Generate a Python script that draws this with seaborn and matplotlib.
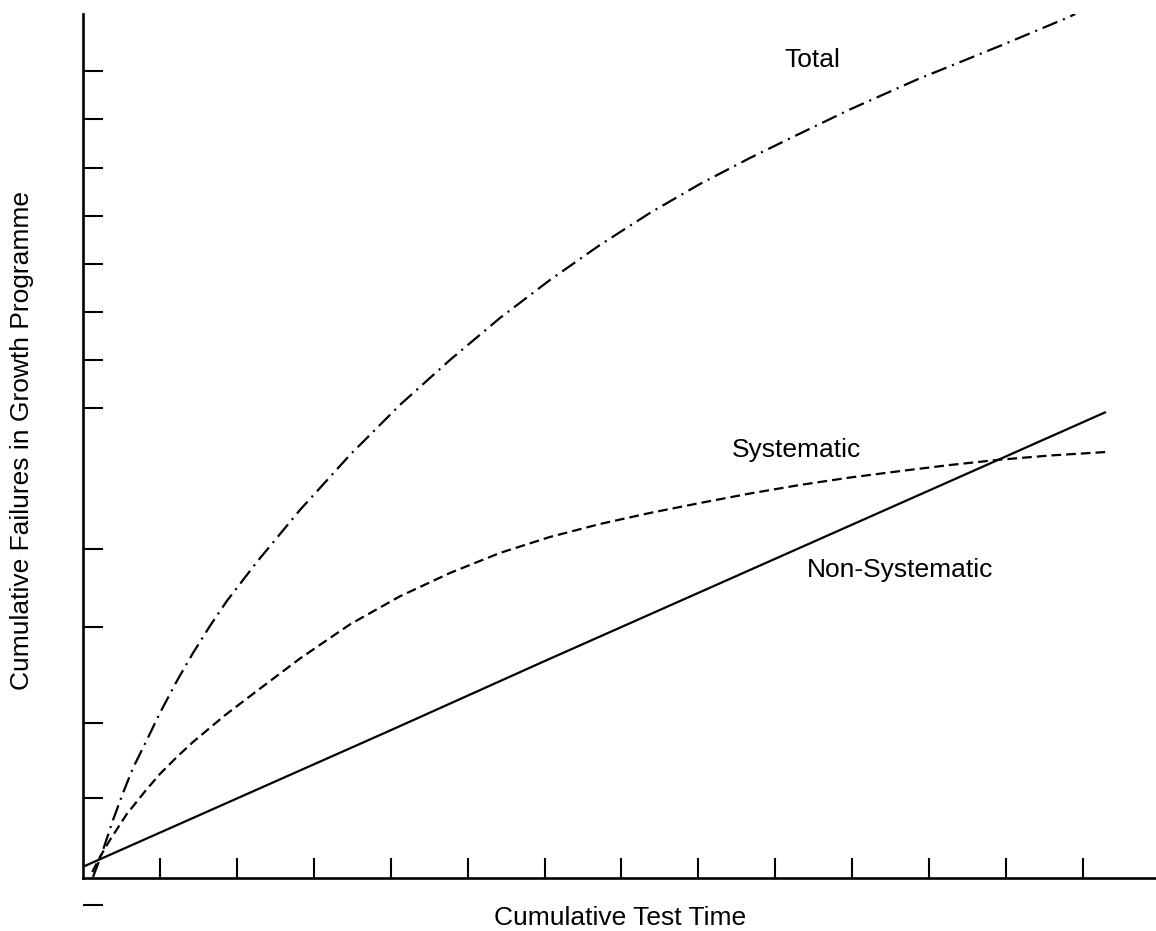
import matplotlib
matplotlib.use("Agg")
import matplotlib.pyplot as plt
import seaborn as sns
import pandas as pd

# ---- data (arbitrary units) ----
nonsys_x = [0.0, 2.0, 4.0, 6.0, 8.0, 10.0, 12.0, 13.29]
nonsys_y = [1.3, 9.2, 17.1, 25.1, 33.0, 40.9, 48.8, 53.9]

sys_x = [0.12, 0.22, 0.35, 0.57, 0.81, 1.00, 1.22, 1.43, 1.85, 2.26, 2.82,
         3.47, 4.12, 4.77, 5.42, 6.07, 6.72, 7.37, 8.02, 8.67, 9.32, 9.97,
         10.67, 11.27, 11.90, 12.57, 13.31]
sys_y = [0.69, 2.43, 4.40, 7.41, 10.07, 12.04, 14.00, 15.74, 18.87, 21.64,
         25.40, 29.35, 32.60, 35.30, 37.62, 39.47, 40.97, 42.25, 43.40, 44.50,
         45.49, 46.35, 47.15, 47.80, 48.40, 48.90, 49.31]

total_x = [0.13, 0.18, 0.26, 0.39, 0.52, 0.65, 0.83, 1.00, 1.22, 1.43, 1.65,
           1.87, 2.26, 2.82, 3.47, 4.12, 4.77, 5.42, 6.07, 6.72, 7.37, 8.02,
           8.67, 9.19, 9.97, 10.84, 11.92, 12.79, 12.90]
total_y = [0.12, 1.27, 3.24, 6.71, 9.84, 12.73, 15.97, 19.10, 22.80, 26.04,
           29.17, 32.06, 36.57, 42.59, 48.96, 54.75, 59.95, 64.81, 69.21,
           73.26, 76.97, 80.32, 83.33, 85.60, 88.95, 92.40, 96.30, 99.54, 100.0]

x_ticks = [1, 2, 3, 4, 5, 6, 7, 8, 9, 10, 11, 12, 13]
y_ticks = [-3.13, 9.26, 17.94, 29.05, 38.08, 54.40, 59.95, 65.51, 71.06,
           76.62, 82.18, 87.85, 93.40]

labels = {"Total": (9.48, 94.7), "Systematic": (9.28, 49.5),
          "Non-Systematic": (10.62, 35.6)}

# ---- style ----
sns.set_theme(style="white")
plt.rcParams["font.family"] = ["Liberation Sans", "DejaVu Sans"]
plt.rcParams["lines.scale_dashes"] = False

W, H = 1156, 931
fig = plt.figure(figsize=(W / 100, H / 100), dpi=100)
ax = fig.add_axes([83 / W, 0, 1 - 83 / W, 1 - 14 / H])
ax.set_facecolor("white")

df_n = pd.DataFrame({"x": nonsys_x, "y": nonsys_y})
df_s = pd.DataFrame({"x": sys_x, "y": sys_y})
df_t = pd.DataFrame({"x": total_x, "y": total_y})

sns.lineplot(data=df_n, x="x", y="y", ax=ax, color="black", linewidth=1.6,
             sort=False, estimator=None)
sns.lineplot(data=df_s, x="x", y="y", ax=ax, color="black", linewidth=1.6,
             sort=False, estimator=None, linestyle=(0, (7, 3.6)))
sns.lineplot(data=df_t, x="x", y="y", ax=ax, color="black", linewidth=1.6,
             sort=False, estimator=None, linestyle=(0, (11.5, 4.3, 1.5, 4.3)))

for txt, (tx, ty) in labels.items():
    ax.text(tx, ty, txt, fontsize=19, ha="center", va="center", color="black")

ax.set_xlim(0, 13.95)
ax.set_ylim(-6.134, 100)

ax.spines["top"].set_visible(False)
ax.spines["right"].set_visible(False)
ax.spines["bottom"].set_position(("data", 0))
ax.spines["left"].set_bounds(0, 100)
for s in ("bottom", "left"):
    ax.spines[s].set_color("black")
    ax.spines[s].set_linewidth(1.9)

ax.set_xticks(x_ticks)
ax.set_xticklabels([])
ax.set_yticks(y_ticks)
ax.set_yticklabels([])
ax.tick_params(axis="both", direction="in", length=14.4, width=1.5,
               color="black", bottom=True, left=True)

ax.set_xlabel("Cumulative Test Time", fontsize=19, color="black", va="center")
ax.xaxis.set_label_coords((620 - 83) / (W - 83), (H - 918) / H)
ax.set_ylabel("Cumulative Failures in Growth Programme", fontsize=19,
              color="black", va="center")
ax.yaxis.set_label_coords((22 - 83) / (W - 83), (H - 440) / (H - 14))

fig.savefig("out.png", dpi=100)
